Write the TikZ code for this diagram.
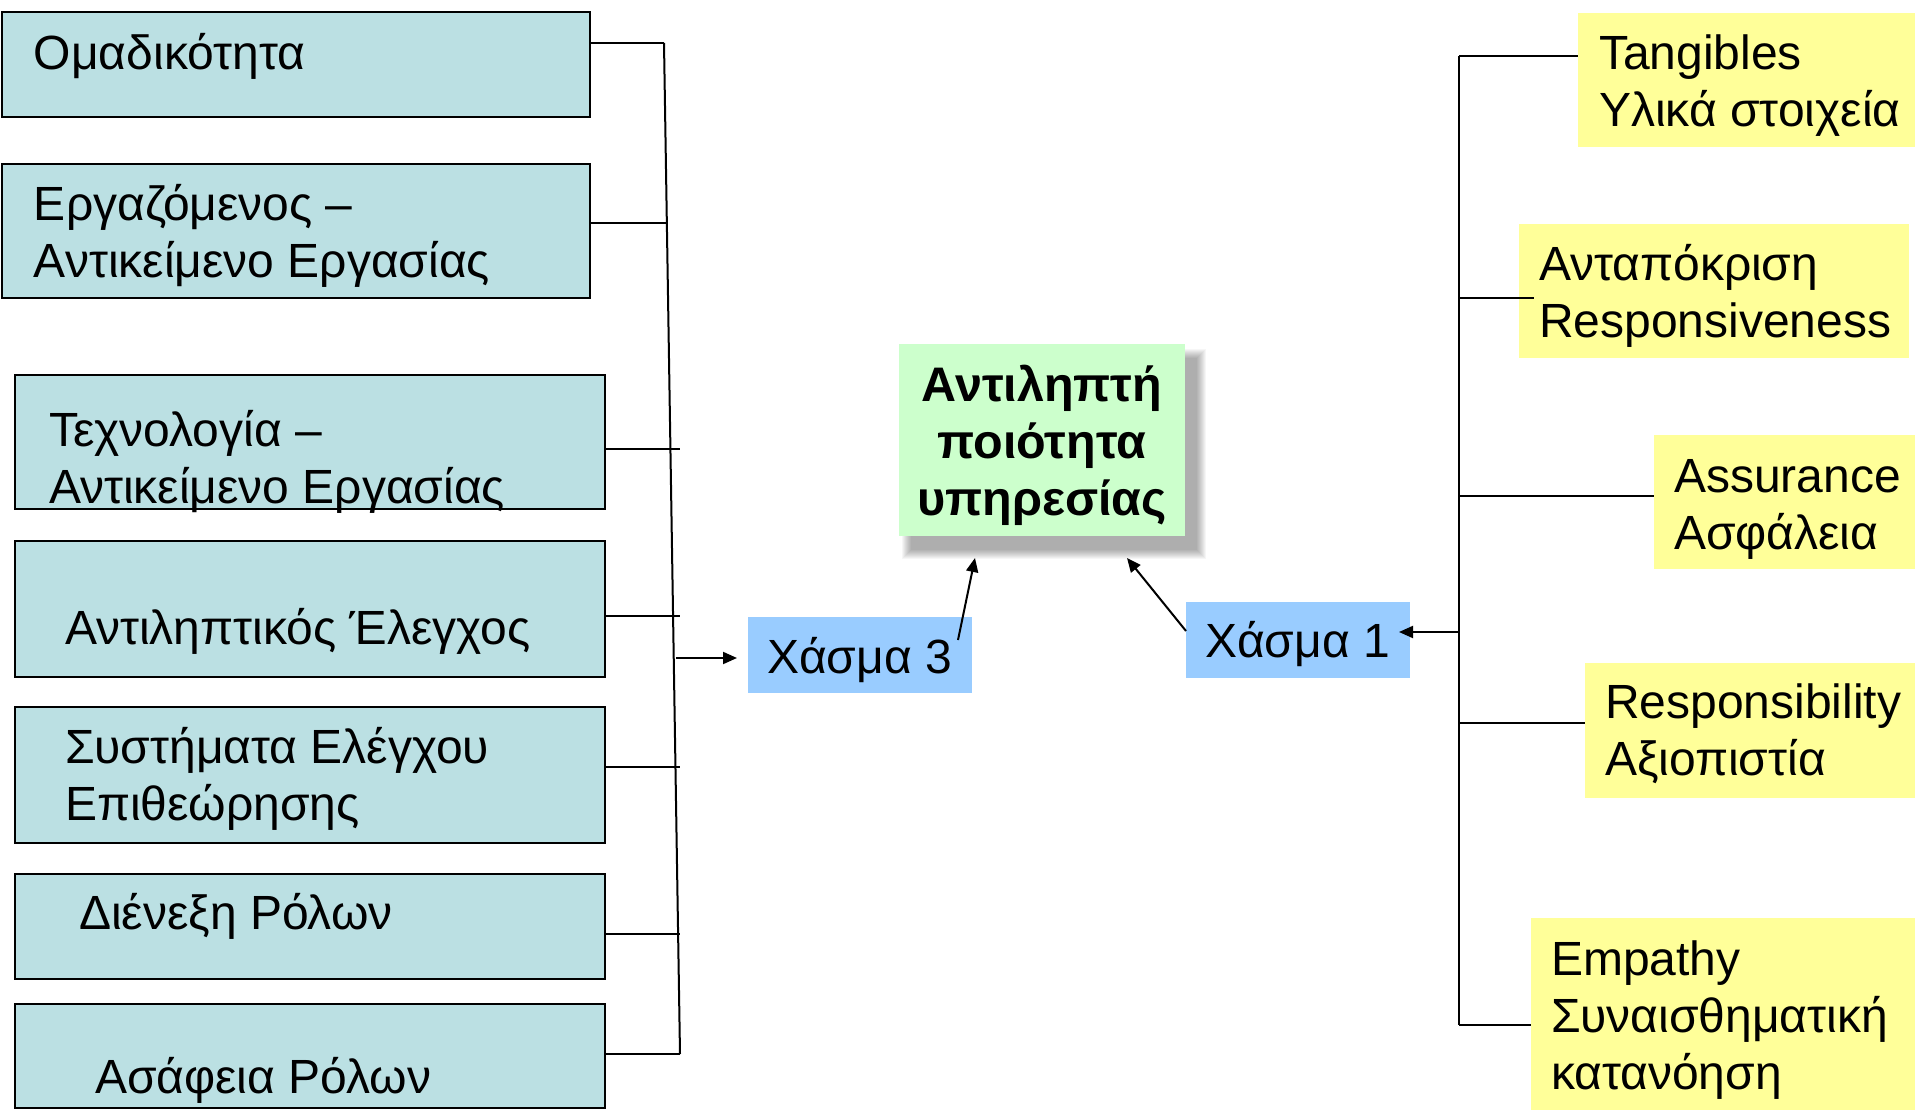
\documentclass[tikz,border=0pt]{standalone}
\usepackage{fontspec}
\setmainfont{Liberation Sans}
\usetikzlibrary{arrows.meta,fit,calc}
\definecolor{lboxc}{RGB}{187,224,227}
\definecolor{qboxc}{RGB}{204,255,204}
\definecolor{gboxc}{RGB}{153,204,255}
\definecolor{yboxc}{RGB}{255,255,153}
\begin{document}
\begin{tikzpicture}[x=1pt,y=-1pt,
  lbox/.style={draw=black, line width=2pt, fill=lboxc, inner sep=0pt, outer sep=0pt},
  ybox/.style={fill=yboxc, inner sep=0pt, outer sep=0pt},
  gbox/.style={fill=gboxc, inner sep=0pt, outer sep=0pt},
  qbox/.style={fill=qboxc, inner sep=0pt, outer sep=0pt},
  txt/.style={anchor=north west, inner sep=0pt, outer sep=0pt, align=left,
     font=\fontsize{48}{57}\selectfont},
  qtxt/.style={anchor=north, inner sep=0pt, outer sep=0pt, align=center,
     font=\fontsize{48.5}{57}\selectfont\bfseries},
  conn/.style={line width=2pt, draw=black},
  arr/.style={conn, -{Triangle[length=14pt,width=12pt]}}
]
\fill[white] (0,0) rectangle (1915,1110);
\useasboundingbox (0,0) rectangle (1915,1110);

% left boxes
\node[lbox, fit={(1.5,12)(590,117)}] (b1) {};
\node[lbox, fit={(1.5,164)(590,298)}] (b2) {};
\node[lbox, fit={(15,375)(605,509)}] (b3) {};
\node[lbox, fit={(15,541)(605,677)}] (b4) {};
\node[lbox, fit={(15,707)(605,843)}] (b5) {};
\node[lbox, fit={(15,874)(605,979)}] (b6) {};
\node[lbox, fit={(15,1004)(605,1108)}] (b7) {};

\node[txt] (b1t) at (34,30) {\strut Ομαδικότητα};
\node[txt] (b2t) at (34,181) {\strut Εργαζόμενος –\\\strut Αντικείμενο Εργασίας};
\node[txt] (b3t) at (49,407) {\strut Τεχνολογία –\\\strut Αντικείμενο Εργασίας};
\node[txt] (b4t) at (65,605) {\strut Αντιληπτικός Έλεγχος};
\node[txt] (b5t) at (65,724) {\strut Συστήματα Ελέγχου\\\strut Επιθεώρησης};
\node[txt] (b6t) at (79,890) {\strut Διένεξη Ρόλων};
\node[txt] (b7t) at (95,1054) {\strut Ασάφεια Ρόλων};

% soft shadow of the central box
\foreach \i in {0,...,9}
  \fill[black, opacity=0.035] (911-\i,358-\i) rectangle (1197+\i,550+\i);

% gaps and central box
\node[gbox, fit={(748,617)(972,693)}] (g3) {};
\node[gbox, fit={(1186,602)(1410,678)}] (g1) {};
\node[qbox, fit={(899,344)(1185,536)}] (cq) {};

\node[txt] (g3t) at (767,634) {\strut Χάσμα 3};
\node[txt] (g1t) at (1205,618) {\strut Χάσμα 1};
\node[qtxt] (cqt) at (1042,362) {\strut Αντιληπτή\\\strut ποιότητα\\\strut υπηρεσίας};

% right boxes
\node[ybox, fit={(1578,13)(1915,147)}] (r1) {};
\node[ybox, fit={(1519,224)(1909,358)}] (r2) {};
\node[ybox, fit={(1654,435)(1915,569)}] (r3) {};
\node[ybox, fit={(1585,663)(1915,798)}] (r4) {};
\node[ybox, fit={(1531,918)(1915,1110)}] (r5) {};

\node[txt] (r1t) at (1599,30) {\strut Tangibles\\\strut Υλικά στοιχεία};
\node[txt] (r2t) at (1539,241) {\strut Ανταπόκριση\\\strut Responsiveness};
\node[txt] (r3t) at (1674,453) {\strut Assurance\\\strut Ασφάλεια};
\node[txt] (r4t) at (1605,679) {\strut Responsibility\\\strut Αξιοπιστία};
\node[txt] (r5t) at (1551,936) {\strut Empathy\\\strut Συναισθηματική\\\strut κατανόηση};

% left bus
\coordinate (lj1) at (664,43);
\coordinate (lj2) at (667,223.5);
\coordinate (lj3) at (680,449);
\coordinate (lj4) at (680,615.5);
\coordinate (lj5) at (680,767);
\coordinate (lj6) at (680,934);
\coordinate (lj7) at (680,1054);
\coordinate (la) at (676,658);
\draw[conn] (lj1) -- (lj7);
\draw[conn] (b1.east |- lj1) -- (lj1);
\draw[conn] (b2.east |- lj2) -- (lj2);
\draw[conn] (b3.east |- lj3) -- (lj3);
\draw[conn] (b4.east |- lj4) -- (lj4);
\draw[conn] (b5.east |- lj5) -- (lj5);
\draw[conn] (b6.east |- lj6) -- (lj6);
\draw[conn] (b7.east |- lj7) -- (lj7);
\draw[arr] (la) -- ($(g3.west |- la)+(-11,0)$);

% right bus
\coordinate (rj1) at (1459,56);
\coordinate (rj2) at (1459,298);
\coordinate (rj3) at (1459,496);
\coordinate (rjm) at (1459,632);
\coordinate (rj4) at (1459,723);
\coordinate (rj5) at (1459,1025);
\draw[conn] (rj1) -- (rj5);
\draw[conn] (rj1) -- (r1.west |- rj1);
\draw[conn] (rj2) -- ($(r2.west |- rj2)+(15,0)$);
\draw[conn] (rj3) -- (r3.west |- rj3);
\draw[conn] (rj4) -- (r4.west |- rj4);
\draw[conn] (rj5) -- (r5.west |- rj5);
\draw[arr] (rjm) -- ($(g1.east |- rjm)+(-11,0)$);

% arrows to central box
\draw[arr] ($(g3.north east)+(-14,23)$) -- ($(cq.south west)+(76,22)$);
\draw[arr] ($(g1.north west)+(0,29)$) -- ($(cq.south east)+(-58,22)$);
\end{tikzpicture}
\end{document}
